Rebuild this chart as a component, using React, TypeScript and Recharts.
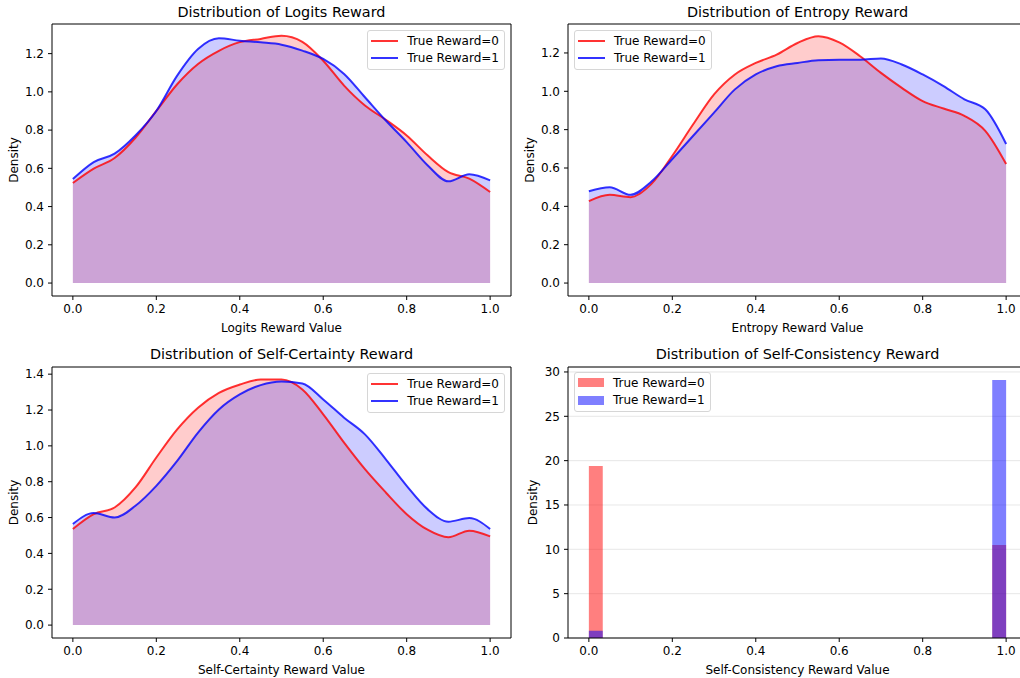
import React from 'react';
import { ComposedChart, Area, Line, XAxis, YAxis, CartesianGrid, Legend, ReferenceLine } from 'recharts';

const FONT = '"DejaVu Sans", "Liberation Sans", sans-serif';
const SERIES_NAMES = ['True Reward=0', 'True Reward=1'];
const LINE_COLORS = ['rgba(255,0,0,0.8)', 'rgba(0,0,255,0.8)'];
const BASE_COLORS = ['#ff0000', '#0000ff'];
const X_TICKS = [0, 0.2, 0.4, 0.6, 0.8, 1.0];
const X_DOMAIN = [-0.05, 1.05];

// KDE evaluation grid (reward value)
const kdeX = [0, 0.05, 0.1, 0.15, 0.2, 0.25, 0.3, 0.35, 0.4, 0.45, 0.5, 0.55, 0.6, 0.65, 0.7, 0.75, 0.8, 0.85, 0.9, 0.95, 1.0];

// Logits reward density
const logitsR0 = [0.523, 0.598, 0.654, 0.76, 0.9, 1.04, 1.146, 1.215, 1.26, 1.277, 1.294, 1.262, 1.163, 1.033, 0.929, 0.854, 0.772, 0.668, 0.58, 0.546, 0.476];
const logitsR1 = [0.544, 0.633, 0.677, 0.772, 0.9, 1.085, 1.224, 1.28, 1.268, 1.259, 1.247, 1.216, 1.172, 1.094, 0.972, 0.85, 0.737, 0.616, 0.532, 0.569, 0.537];

// Entropy reward density
const entropyR0 = [0.427, 0.46, 0.448, 0.517, 0.664, 0.828, 0.984, 1.088, 1.148, 1.191, 1.252, 1.287, 1.255, 1.183, 1.096, 1.018, 0.949, 0.91, 0.872, 0.794, 0.621];
const entropyR1 = [0.479, 0.5, 0.46, 0.529, 0.647, 0.768, 0.889, 1.01, 1.088, 1.131, 1.148, 1.162, 1.165, 1.165, 1.171, 1.14, 1.088, 1.027, 0.958, 0.906, 0.725];

// Self-certainty reward density
const certR0 = [0.536, 0.619, 0.656, 0.768, 0.935, 1.092, 1.213, 1.296, 1.342, 1.37, 1.37, 1.315, 1.176, 1.018, 0.87, 0.74, 0.619, 0.532, 0.49, 0.527, 0.495];
const certR1 = [0.564, 0.625, 0.6, 0.666, 0.777, 0.916, 1.074, 1.203, 1.287, 1.339, 1.359, 1.348, 1.259, 1.157, 1.064, 0.925, 0.777, 0.647, 0.577, 0.597, 0.536];

// Self-consistency histogram (30 bins over [0, 1]); empty bins in between
const binEdges = [0, 0.0333, 0.9667, 1.0];
const consR0 = [19.4, 0, 10.5, 0];
const consR1 = [0.82, 0, 29.1, 0];

const axisProps = {
  stroke: '#000',
  tickSize: 4,
  tickMargin: 4,
  tick: { fill: '#000', fontSize: 12, fontFamily: FONT },
};

function BoxLegend({ kind }: { kind: 'line' | 'patch' }) {
  return (
    <div
      style={{
        border: '1px solid #d6d6d6',
        borderRadius: 3,
        background: 'rgba(255,255,255,0.8)',
        padding: '1px 5px 2px 3px',
        fontFamily: FONT,
        fontSize: 12,
        color: '#000',
      }}
    >
      {SERIES_NAMES.map((name, i) => (
        <div key={name} style={{ display: 'flex', alignItems: 'center', height: 17.6 }}>
          {kind === 'line' ? (
            <div style={{ width: 27, height: 2, background: LINE_COLORS[i] }} />
          ) : (
            <div style={{ width: 26, height: 9, background: BASE_COLORS[i], opacity: 0.5 }} />
          )}
          <span style={{ marginLeft: 9, whiteSpace: 'nowrap' }}>{name}</span>
        </div>
      ))}
    </div>
  );
}

interface PanelProps {
  left: number;
  top: number;
  bottomRow: boolean;
  rightCol: boolean;
  title: string;
  xLabel: string;
  legendOnLeft: boolean;
}

function panelGeometry(bottomRow: boolean, rightCol: boolean) {
  const yAxisWidth = rightCol ? 53 : 52;
  const margin = bottomRow
    ? { top: 28, right: rightCol ? 3 : 4, bottom: 0, left: 0 }
    : { top: 24, right: rightCol ? 3 : 4, bottom: 3, left: 0 };
  return { yAxisWidth, margin };
}

function Title({ text, plotLeft, plotWidth, top }: { text: string; plotLeft: number; plotWidth: number; top: number }) {
  return (
    <div
      style={{
        position: 'absolute',
        left: plotLeft,
        width: plotWidth,
        top,
        textAlign: 'center',
        fontFamily: FONT,
        fontSize: 14.4,
        lineHeight: '17px',
        color: '#000',
        whiteSpace: 'nowrap',
      }}
    >
      {text}
    </div>
  );
}

const W = 515;
const H = 339;

function legendPosition(onLeft: boolean, yAxisWidth: number, margin: { top: number; right: number }, dy: number) {
  return (onLeft
    ? { left: yAxisWidth + 6, right: 'auto', top: margin.top + dy, width: 'auto', height: 'auto' }
    : { left: 'auto', right: margin.right + 6, top: margin.top + dy, width: 'auto', height: 'auto' }) as React.CSSProperties;
}

function KdePanel({
  left, top, bottomRow, rightCol, title, xLabel, legendOnLeft,
  r0, r1, yMax, yTicks,
}: PanelProps & { r0: number[]; r1: number[]; yMax: number; yTicks: number[] }) {
  const { yAxisWidth, margin } = panelGeometry(bottomRow, rightCol);
  const rows = kdeX.map((x, i) => ({ x, r0: r0[i], r1: r1[i] }));
  const yMin = -0.05 * yMax;
  const plotWidth = W - yAxisWidth - margin.right;
  return (
    <div style={{ position: 'absolute', left, top, width: W, height: H }}>
      <Title text={title} plotLeft={yAxisWidth} plotWidth={plotWidth} top={bottomRow ? 7 : 4} />
      <ComposedChart width={W} height={H} data={rows} margin={margin}>
        <XAxis
          {...axisProps}
          dataKey="x"
          type="number"
          domain={X_DOMAIN}
          ticks={X_TICKS}
          tickFormatter={(v: number) => v.toFixed(1)}
          allowDataOverflow
          height={40}
          label={{ value: xLabel, position: 'insideBottom', offset: 4, fill: '#000', fontSize: 12, fontFamily: FONT }}
        />
        <YAxis
          {...axisProps}
          type="number"
          domain={[yMin, yMax]}
          ticks={yTicks}
          tickFormatter={(v: number) => v.toFixed(1)}
          allowDataOverflow
          width={yAxisWidth}
          label={{
            value: 'Density', angle: -90, position: 'insideLeft', offset: rightCol ? 15 : 14,
            fill: '#000', fontSize: 12, fontFamily: FONT, style: { textAnchor: 'middle' },
          }}
        />
        {/* fills first, lines on top */}
        <Area dataKey="r0" type="monotone" baseValue={0} stroke="none" fill={BASE_COLORS[0]} fillOpacity={0.2}
          dot={false} activeDot={false} legendType="none" isAnimationActive={false} />
        <Area dataKey="r1" type="monotone" baseValue={0} stroke="none" fill={BASE_COLORS[1]} fillOpacity={0.2}
          dot={false} activeDot={false} legendType="none" isAnimationActive={false} />
        <Line dataKey="r0" name={SERIES_NAMES[0]} type="monotone" stroke={LINE_COLORS[0]} strokeWidth={2}
          dot={false} activeDot={false} isAnimationActive={false} />
        <Line dataKey="r1" name={SERIES_NAMES[1]} type="monotone" stroke={LINE_COLORS[1]} strokeWidth={2}
          dot={false} activeDot={false} isAnimationActive={false} />
        {/* top and right spines */}
        <ReferenceLine y={yMax} stroke="#000" />
        <ReferenceLine x={X_DOMAIN[1]} stroke="#000" />
        <Legend
          layout="horizontal"
          align="center"
          verticalAlign="middle"
          wrapperStyle={legendPosition(legendOnLeft, yAxisWidth, margin, 6)}
          content={() => <BoxLegend kind="line" />}
        />
      </ComposedChart>
    </div>
  );
}

function HistPanel({ left, top, bottomRow, rightCol, title, xLabel, legendOnLeft }: PanelProps) {
  const { yAxisWidth, margin } = panelGeometry(bottomRow, rightCol);
  const rows = binEdges.map((x, i) => ({ x, r0: consR0[i], r1: consR1[i] }));
  const plotWidth = W - yAxisWidth - margin.right;
  const yMax = 30.56;
  return (
    <div style={{ position: 'absolute', left, top, width: W, height: H }}>
      <Title text={title} plotLeft={yAxisWidth} plotWidth={plotWidth} top={bottomRow ? 7 : 4} />
      <ComposedChart width={W} height={H} data={rows} margin={margin}>
        <CartesianGrid vertical={false} stroke="#b0b0b0" strokeOpacity={0.3} />
        <XAxis
          {...axisProps}
          dataKey="x"
          type="number"
          domain={X_DOMAIN}
          ticks={X_TICKS}
          tickFormatter={(v: number) => v.toFixed(1)}
          allowDataOverflow
          height={40}
          label={{ value: xLabel, position: 'insideBottom', offset: 4, fill: '#000', fontSize: 12, fontFamily: FONT }}
        />
        <YAxis
          {...axisProps}
          type="number"
          domain={[0, yMax]}
          ticks={[0, 5, 10, 15, 20, 25, 30]}
          allowDataOverflow
          width={yAxisWidth}
          label={{
            value: 'Density', angle: -90, position: 'insideLeft', offset: 18,
            fill: '#000', fontSize: 12, fontFamily: FONT, style: { textAnchor: 'middle' },
          }}
        />
        <Area
          dataKey="r0"
          name={SERIES_NAMES[0]}
          type="stepAfter"
          baseValue={0}
          stroke="none"
          fill={BASE_COLORS[0]}
          fillOpacity={0.5}
          dot={false}
          activeDot={false}
          isAnimationActive={false}
        />
        <Area
          dataKey="r1"
          name={SERIES_NAMES[1]}
          type="stepAfter"
          baseValue={0}
          stroke="none"
          fill={BASE_COLORS[1]}
          fillOpacity={0.5}
          dot={false}
          activeDot={false}
          isAnimationActive={false}
        />
        <ReferenceLine y={yMax} stroke="#000" />
        <ReferenceLine x={X_DOMAIN[1]} stroke="#000" />
        <Legend
          layout="horizontal"
          align="center"
          verticalAlign="middle"
          wrapperStyle={legendPosition(legendOnLeft, yAxisWidth, margin, 5)}
          content={() => <BoxLegend kind="patch" />}
        />
      </ComposedChart>
    </div>
  );
}

export default function App() {
  return (
    <div style={{ position: 'absolute', left: 0, top: 0, width: 1020, height: 678, overflow: 'hidden', background: '#fff' }}>
      <KdePanel
        left={0} top={0} bottomRow={false} rightCol={false}
        title="Distribution of Logits Reward" xLabel="Logits Reward Value" legendOnLeft={false}
        r0={logitsR0} r1={logitsR1} yMax={1.355} yTicks={[0, 0.2, 0.4, 0.6, 0.8, 1.0, 1.2]}
      />
      <KdePanel
        left={515} top={0} bottomRow={false} rightCol
        title="Distribution of Entropy Reward" xLabel="Entropy Reward Value" legendOnLeft
        r0={entropyR0} r1={entropyR1} yMax={1.351} yTicks={[0, 0.2, 0.4, 0.6, 0.8, 1.0, 1.2]}
      />
      <KdePanel
        left={0} top={339} bottomRow rightCol={false}
        title="Distribution of Self-Certainty Reward" xLabel="Self-Certainty Reward Value" legendOnLeft={false}
        r0={certR0} r1={certR1} yMax={1.44} yTicks={[0, 0.2, 0.4, 0.6, 0.8, 1.0, 1.2, 1.4]}
      />
      <HistPanel
        left={515} top={339} bottomRow rightCol
        title="Distribution of Self-Consistency Reward" xLabel="Self-Consistency Reward Value" legendOnLeft
      />
    </div>
  );
}
